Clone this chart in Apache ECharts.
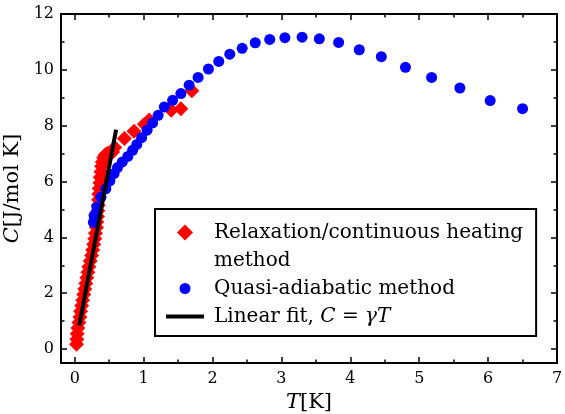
<!DOCTYPE html>
<html>
<head>
<meta charset="utf-8">
<script src="https://cdn.jsdelivr.net/npm/echarts@6/dist/echarts.min.js"></script>
<style>
html, body { margin: 0; padding: 0; background: #fff; }
#mainChart { width: 565px; height: 414px; }
</style>
</head>
<body>
<div id="mainChart"></div>
<script>
'use strict';

// relaxation / continuous heating (red diamonds)
var relaxT = [0.025, 0.03, 0.035, 0.045, 0.06, 0.075, 0.085, 0.10, 0.115, 0.13, 0.145, 0.16, 0.175, 0.19, 0.205,
    0.225, 0.245, 0.26, 0.275, 0.29, 0.30, 0.315, 0.32, 0.33, 0.335, 0.34, 0.345, 0.35, 0.355, 0.365, 0.37,
    0.38, 0.39, 0.40, 0.42, 0.44, 0.47, 0.55, 0.58, 0.72, 0.86, 1.01, 1.08, 1.40, 1.54, 1.70];
var relaxC = [0.17, 0.35, 0.55, 0.75, 0.95, 1.15, 1.35, 1.55, 1.75, 1.95, 2.15, 2.35, 2.55, 2.75, 2.95,
    3.15, 3.35, 3.55, 3.75, 3.95, 4.15, 4.35, 4.55, 4.75, 4.95, 5.15, 5.35, 5.55, 5.75, 5.95, 6.15,
    6.35, 6.55, 6.70, 6.85, 6.95, 7.00, 7.06, 7.22, 7.54, 7.80, 8.05, 8.20, 8.55, 8.61, 9.25];

// quasi-adiabatic (blue circles)
var quasiT = [0.27, 0.28, 0.32, 0.38, 0.45, 0.51, 0.57, 0.62, 0.69, 0.77, 0.84, 0.90, 0.97, 1.05, 1.13, 1.21,
    1.30, 1.42, 1.54, 1.66, 1.79, 1.94, 2.09, 2.25, 2.43, 2.62, 2.83, 3.05, 3.30, 3.55, 3.83, 4.13, 4.45,
    4.80, 5.18, 5.59, 6.03, 6.50];
var quasiC = [4.54, 4.78, 5.08, 5.44, 5.74, 6.02, 6.28, 6.50, 6.70, 6.90, 7.12, 7.33, 7.57, 7.84, 8.10, 8.37,
    8.67, 8.91, 9.15, 9.45, 9.73, 10.03, 10.30, 10.56, 10.77, 10.97, 11.09, 11.15, 11.17, 11.11, 10.98, 10.72, 10.47,
    10.09, 9.73, 9.35, 8.90, 8.61];

// linear fit C = gamma T
var fitT = [0.065, 0.60];
var fitC = [0.85, 7.86];

var xTickLabels = [0, 1, 2, 3, 4, 5, 6, 7];
var yTickLabels = [0, 2, 4, 6, 8, 10, 12];

var legendNames = ['Relaxation/continuous heating', 'method', 'Quasi-adiabatic method', 'Linear fit, C = \u03b3T'];

var FONT = 'DejaVu Serif';

function pairs(xs, ys) {
    var out = [];
    for (var i = 0; i < xs.length; i++) {
        out.push([xs[i], ys[i]]);
    }
    return out;
}

function makeAxis(dim, position, step, tickLen, withLabels) {
    var isX = dim === 'x';
    var ax = {
        type: 'value',
        position: position,
        min: isX ? -0.2 : -0.5,
        max: isX ? 7 : 12,
        minInterval: step,
        maxInterval: step,
        splitNumber: isX ? 7 : 6,
        splitLine: { show: false },
        axisLine: { show: true, onZero: false, lineStyle: { color: '#000', width: 2 } },
        axisTick: { show: true, inside: true, length: tickLen, lineStyle: { color: '#000', width: 1.5 } },
        axisLabel: { show: false },
        axisPointer: { show: false }
    };
    if (withLabels) {
        var allowed = isX ? xTickLabels : yTickLabels;
        ax.axisLabel = {
            show: true,
            color: '#000',
            fontFamily: FONT,
            fontSize: 16,
            margin: isX ? 8 : 7,
            formatter: function(v) {
                return allowed.indexOf(v) >= 0 ? String(v) : '';
            }
        };
    }
    return ax;
}

var nameStyle = {
    color: '#000', fontFamily: FONT, fontSize: 21,
    rich: { i: { fontStyle: 'italic', fontFamily: FONT, fontSize: 21, color: '#000' } }
};

var xMain = makeAxis('x', 'bottom', 1, 6, true);
xMain.name = '{i|T}[K]';
xMain.nameLocation = 'middle';
xMain.nameGap = 27;
xMain.nameTextStyle = echarts.util.extend({ verticalAlign: 'top' }, nameStyle);

var yMain = makeAxis('y', 'left', 2, 6, true);
yMain.name = '{i|C}[J/mol K]';
yMain.nameLocation = 'middle';
yMain.nameGap = 33;
yMain.nameTextStyle = nameStyle;

var myChart = echarts.init(document.getElementById('mainChart'), null, { renderer: 'canvas' });

var option = {
    animation: false,
    backgroundColor: '#fff',
    grid: { left: 61, right: 8, top: 14, bottom: 51, containLabel: false, outerBoundsMode: 'none' },
    xAxis: [
        xMain,
        makeAxis('x', 'top', 1, 6, false),
        makeAxis('x', 'bottom', 0.5, 3.5, false),
        makeAxis('x', 'top', 0.5, 3.5, false)
    ],
    yAxis: [
        yMain,
        makeAxis('y', 'right', 2, 6, false),
        makeAxis('y', 'left', 1, 3.5, false),
        makeAxis('y', 'right', 1, 3.5, false)
    ],
    legend: {
        orient: 'vertical',
        left: 155,
        top: 209,
        backgroundColor: '#fff',
        borderColor: '#000',
        borderWidth: 2,
        borderRadius: 0,
        padding: [10, 13, 6, 11],
        itemWidth: 38,
        itemHeight: 16,
        itemGap: 1,
        selectedMode: false,
        textStyle: {
            color: '#000', fontFamily: FONT, fontSize: 20, lineHeight: 27, padding: [0, 0, 0, 5],
            rich: { i: { fontStyle: 'italic', fontFamily: FONT, fontSize: 20, lineHeight: 27, color: '#000' } }
        },
        formatter: function(name) {
            if (name === legendNames[3]) {
                return 'Linear fit, {i|C} = {i|\u03b3T}';
            }
            return name;
        },
        data: [
            { name: legendNames[0], icon: 'path://M0,-1L1,0L0,1L-1,0Z' },
            { name: legendNames[1], icon: 'none' },
            { name: legendNames[2], icon: 'circle', itemStyle: { borderColor: '#fff', borderWidth: 5 } },
            { name: legendNames[3], icon: 'path://M0,0L38,0L38,4L0,4Z' }
        ]
    },
    series: [
        {
            name: legendNames[0],
            type: 'scatter',
            xAxisIndex: 0, yAxisIndex: 0,
            symbol: 'diamond',
            symbolSize: 15,
            itemStyle: { color: '#ff0000', opacity: 1 },
            data: pairs(relaxT, relaxC),
            z: 2
        },
        {
            name: legendNames[1],
            type: 'scatter',
            xAxisIndex: 0, yAxisIndex: 0,
            itemStyle: { color: '#000' },
            data: []
        },
        {
            name: legendNames[2],
            type: 'scatter',
            xAxisIndex: 0, yAxisIndex: 0,
            symbol: 'circle',
            symbolSize: 11,
            itemStyle: { color: '#0000ff', opacity: 1 },
            data: pairs(quasiT, quasiC),
            z: 3
        },
        {
            name: legendNames[3],
            type: 'line',
            xAxisIndex: 0, yAxisIndex: 0,
            symbol: 'none',
            color: '#000',
            itemStyle: { color: '#000' },
            lineStyle: { color: '#000', width: 4 },
            data: pairs(fitT, fitC),
            z: 4
        }
    ]
};

myChart.setOption(option);
</script>
</body>
</html>
